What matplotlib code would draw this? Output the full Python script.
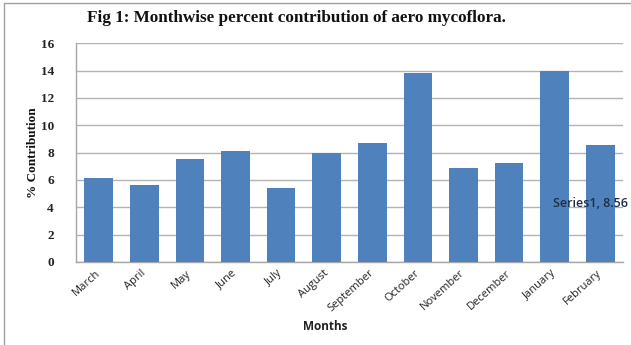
import matplotlib
matplotlib.use("Agg")
import matplotlib.pyplot as plt
from matplotlib.patches import Rectangle

months = ["March", "April", "May", "June", "July", "August", "September",
          "October", "November", "December", "January", "February"]
contribution = [6.12, 5.63, 7.51, 8.14, 5.39, 7.95, 8.70, 13.83, 6.85, 7.24, 13.97, 8.56]
yticks = [0, 2, 4, 6, 8, 10, 12, 14, 16]

W, H = 631, 345
fig = plt.figure(figsize=(W / 100, H / 100), dpi=100)
ax = fig.add_axes([76 / W, 1 - 262 / H, (623 - 76) / W, (262 - 43.3) / H])

x = list(range(len(months)))
ax.bar(x, contribution, width=0.63, color="#4F81BD", zorder=3)
ax.set_xlim(-0.5, len(months) - 0.5)
ax.set_ylim(0, 16)
ax.set_yticks(yticks)
ax.yaxis.grid(True, color="#B3B3B3", linewidth=1.0, zorder=0)
ax.tick_params(axis="both", length=0)
ax.tick_params(axis="y", pad=16)
for s in ["top", "right"]:
    ax.spines[s].set_visible(False)
for s in ["left", "bottom"]:
    ax.spines[s].set_color("#A6A6A6")
    ax.spines[s].set_linewidth(1.0)

ax.set_yticklabels([str(v) for v in yticks], fontfamily="Liberation Serif",
                   fontweight="bold", fontsize=9.5, color="#222222")
ax.set_xticks(x)
ax.set_xticklabels(months, rotation=42, ha="right", va="center",
                   rotation_mode="anchor", fontfamily="Open Sans",
                   fontsize=8.0, color="#222222")
ax.tick_params(axis="x", pad=7)

# data label (placed inside the February bar, kept within the figure)
ax.text(x[-1] + 0.62, contribution[-1] / 2, f"Series1, {contribution[-1]:.2f}",
        ha="right", va="center", fontfamily="Open Sans", fontweight="semibold",
        fontsize=9.0, color="#1F2D47", zorder=5, clip_on=False)

fig.text(296 / W, 1 - 18 / H, "Fig 1: Monthwise percent contribution of aero mycoflora.",
         ha="center", va="center", fontfamily="Liberation Serif",
         fontweight="bold", fontsize=12.3, color="#111111")
fig.text(33 / W, 1 - 153 / H, "% Contribution", rotation=90, ha="center",
         va="center", fontfamily="Liberation Serif", fontweight="bold",
         fontsize=9.5, color="#111111")
fig.text(325 / W, 1 - 327 / H, "Months", ha="center", va="center",
         fontfamily="Open Sans", fontweight="bold", fontsize=8.5, color="#222222")

fig.patches.append(Rectangle((4 / W, -0.05), 1.1, 1 - 3 / H + 0.05,
                             transform=fig.transFigure, fill=False,
                             edgecolor="#A0A0A0", linewidth=1.0))

fig.savefig("out.png", dpi=100)
